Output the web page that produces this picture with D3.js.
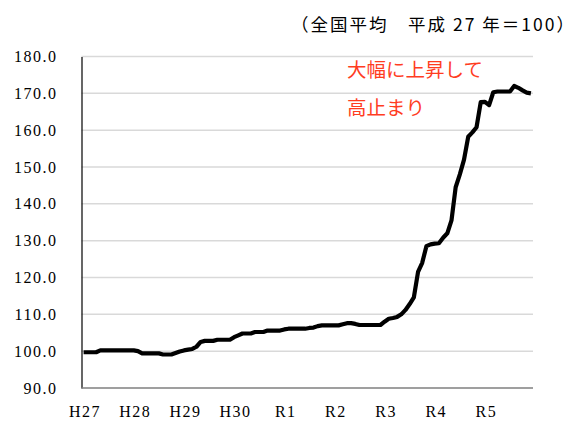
<!DOCTYPE html>
<html>
<head>
<meta charset="utf-8">
<script src="https://cdn.jsdelivr.net/npm/d3@7"></script>
<style>
  body { margin: 0; background: #fff; }
</style>
</head>
<body>
<div class="chart"></div>
<script>
function wrapper(){

// year labels (one every 12 months)
var yearLabels = ["H27", "H28", "H29", "H30", "R1", "R2", "R3", "R4", "R5"];

// monthly index values, H27.1 - R5.12
var values2015 = [99.7, 99.7, 99.7, 99.7, 100.2, 100.2, 100.2, 100.2, 100.2, 100.2, 100.2, 100.2];
var values2016 = [100.2, 100.0, 99.4, 99.4, 99.4, 99.4, 99.4, 99.1, 99.1, 99.1, 99.5, 99.9];
var values2017 = [100.2, 100.4, 100.6, 101.2, 102.5, 102.8, 102.8, 102.8, 103.1, 103.1, 103.1, 103.1];
var values2018 = [103.8, 104.3, 104.8, 104.8, 104.8, 105.2, 105.2, 105.2, 105.6, 105.6, 105.6, 105.6];
var values2019 = [105.9, 106.1, 106.1, 106.1, 106.1, 106.1, 106.3, 106.4, 106.8, 107.0, 107.0, 107.0];
var values2020 = [107.0, 107.0, 107.3, 107.6, 107.6, 107.4, 107.1, 107.1, 107.1, 107.1, 107.1, 107.1];
var values2021 = [108.0, 108.8, 109.0, 109.3, 110.0, 111.2, 112.8, 114.6, 121.5, 124.0, 128.5, 129.0];
var values2022 = [129.2, 129.3, 130.8, 132.0, 135.5, 144.5, 148.0, 152.0, 158.2, 159.4, 160.8, 167.6];
var values2023 = [167.7, 166.8, 170.3, 170.5, 170.5, 170.5, 170.5, 172.0, 171.5, 170.8, 170.2, 170.0];

var yTicks = [90, 100, 110, 120, 130, 140, 150, 160, 170, 180];

var titleText = "（全国平均　平成 27 年＝100）";
var noteLines = ["大幅に上昇して", "高止まり"];

var values = [].concat(values2015, values2016, values2017, values2018, values2019,
                       values2020, values2021, values2022, values2023);

var serif = "'Liberation Serif', 'Times New Roman', Times, serif";

var w = 579, h = 422;

var svg = d3.select("div.chart")
            .append("svg")
            .attr("width", w)
            .attr("height", h);

//plot area
var left = 81.5, right = 533, top = 56.5, bottom = 388;

var x = d3.scaleLinear()
          .domain([-0.5, values.length - 0.5])
          .range([left, right]);

var y = d3.scaleLinear()
          .domain([90, 180])
          .range([bottom, top]);

//gridlines
svg.selectAll(".grid")
   .data(yTicks.filter(function(d){ return d > 90; }))
   .enter()
   .append("line")
     .attr("x1", left)
     .attr("x2", right)
     .attr("y1", function(d){ return y(d); })
     .attr("y2", function(d){ return y(d); })
     .attr("stroke", "#d9d9d9")
     .attr("stroke-width", 1.5);

//y axis
var yAxis = svg.append("g")
   .attr("transform", "translate(" + left + ",0)")
   .call(d3.axisLeft(y).tickValues(yTicks).tickSize(0).tickPadding(24)
           .tickFormat(function(d){ return d.toFixed(1); }));
yAxis.attr("font-family", serif).attr("font-size", 16);
yAxis.select(".domain").attr("stroke", "#000").attr("stroke-width", 1.2);
yAxis.selectAll("text")
     .attr("letter-spacing", 1.5)
     .attr("fill", "#000");

//x axis
svg.append("line")
   .attr("x1", left).attr("x2", right)
   .attr("y1", bottom).attr("y2", bottom)
   .attr("stroke", "#7f7f7f")
   .attr("stroke-width", 1.5);

svg.selectAll(".xlab")
   .data(yearLabels)
   .enter()
   .append("text")
     .attr("x", function(d, i){ return x(i * 12) + 1.5; })
     .attr("y", 417)
     .attr("text-anchor", "middle")
     .attr("font-family", serif)
     .attr("font-size", 16)
     .attr("letter-spacing", 1.5)
     .text(function(d){ return d; });

//line
var line = d3.line()
             .x(function(d, i){ return x(i); })
             .y(function(d){ return y(d); });

svg.append("path")
   .datum(values)
   .attr("d", line)
   .attr("fill", "none")
   .attr("stroke", "#000")
   .attr("stroke-width", 4.2)
   .attr("stroke-linejoin", "round");

//title
svg.append("text")
   .attr("x", 576)
   .attr("y", 31)
   .attr("text-anchor", "end")
   .attr("font-family", "'Noto Sans CJK JP', sans-serif")
   .attr("font-size", 17.5)
   .attr("letter-spacing", 2)
   .text(titleText);

//note
svg.selectAll(".note")
   .data(noteLines)
   .enter()
   .append("text")
     .attr("x", 347)
     .attr("y", function(d, i){ return 77 + i * 38; })
     .attr("fill", "#ff3d1f")
     .attr("font-family", "'Noto Sans CJK JP', sans-serif")
     .attr("font-size", 19.5)
     .text(function(d){ return d; });

}
window.onload = wrapper();
</script>
</body>
</html>
